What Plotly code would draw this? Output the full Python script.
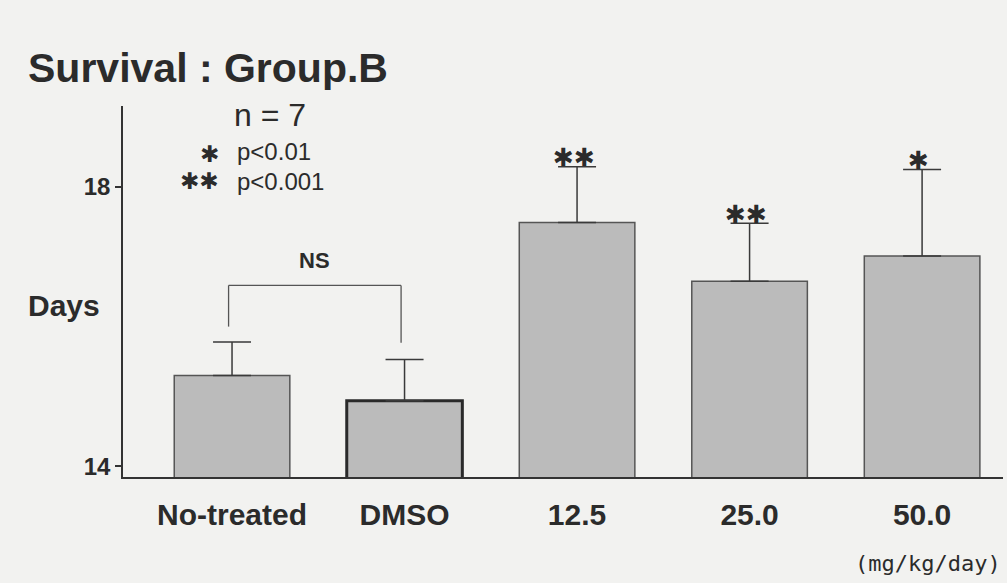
import plotly.graph_objects as go

# ---- data ----
categories = ["No-treated", "DMSO", "12.5", "25.0", "50.0"]
mean_days = [15.30, 14.94, 17.49, 16.65, 17.01]
sd_days = [0.48, 0.59, 0.80, 0.83, 1.24]
significance = ["", "", "✱✱", "✱✱", "✱"]
y_ticks = [14, 18]

# ---- geometry helpers (pixel -> paper) ----
W, H = 1007, 583
L, R, T, B = 123, 4, 106, 106
PW, PH = W - L - R, H - T - B


def px(x):
    return (x - L) / PW


def py(y):
    return (H - B - y) / PH


ink = "#2b2b2b"
bold = "Liberation Sans"
bar_star_font = dict(family="DejaVu Sans", size=25, color=ink)
key_star_font = dict(family="DejaVu Sans", size=23, color=ink)

fig = go.Figure()
fig.add_trace(go.Bar(
    x=list(range(len(categories))),
    y=mean_days,
    width=0.67,
    marker=dict(color="#bbbbbb",
                line=dict(color=["#555", "#2a2a2a", "#555", "#555", "#555"],
                          width=[1.5, 3, 1.5, 1.5, 1.5])),
    error_y=dict(type="data", array=sd_days, arrayminus=[0] * len(sd_days),
                 symmetric=False, color="#3a3a3a", thickness=1.5, width=19),
    showlegend=False,
))

annotations = []
# significance stars above error bars
for i, (m, s, sig) in enumerate(zip(mean_days, sd_days, significance)):
    if sig:
        annotations.append(dict(x=i - 0.02, y=m + s, xref="x", yref="y", text=sig,
                                showarrow=False, yanchor="middle", yshift=9, font=bar_star_font))

# NS bracket
y_top = 16.59
shapes = [
    dict(type="line", xref="x", yref="y", x0=-0.02, x1=-0.02, y0=16.0, y1=y_top,
         line=dict(color="#555", width=1.3)),
    dict(type="line", xref="x", yref="y", x0=-0.02, x1=0.98, y0=y_top, y1=y_top,
         line=dict(color="#555", width=1.3)),
    dict(type="line", xref="x", yref="y", x0=0.98, x1=0.98, y0=15.77, y1=y_top,
         line=dict(color="#555", width=1.3)),
]
annotations.append(dict(x=0.48, y=16.94, xref="x", yref="y", text="<b>NS</b>", showarrow=False,
                        font=dict(family=bold, size=22, color=ink)))

# title and legend texts
annotations += [
    dict(x=px(26), y=py(68), xref="paper", yref="paper", xanchor="left", yanchor="middle",
         text="<b>Survival : Group.B</b>", showarrow=False,
         font=dict(family=bold, size=41, color=ink)),
    dict(x=px(270), y=py(115), xref="paper", yref="paper", xanchor="center", yanchor="middle",
         text="n = 7", showarrow=False, font=dict(family=bold, size=32, color=ink)),
    dict(x=px(235), y=py(151), xref="paper", yref="paper", xanchor="left", yanchor="middle",
         text="p<0.01", showarrow=False, font=dict(family=bold, size=24, color=ink)),
    dict(x=px(235), y=py(181), xref="paper", yref="paper", xanchor="left", yanchor="middle",
         text="p<0.001", showarrow=False, font=dict(family=bold, size=24, color=ink)),
    dict(x=px(221), y=py(154), xref="paper", yref="paper", xanchor="right", yanchor="middle",
         text="✱", showarrow=False, font=key_star_font),
    dict(x=px(221), y=py(181), xref="paper", yref="paper", xanchor="right", yanchor="middle",
         text="✱✱", showarrow=False, font=key_star_font),
    dict(x=px(64), y=py(305), xref="paper", yref="paper", xanchor="center", yanchor="middle",
         text="<b>Days</b>", showarrow=False, font=dict(family=bold, size=30, color=ink)),
    dict(x=px(928), y=py(563), xref="paper", yref="paper", xanchor="center", yanchor="middle",
         text="(mg/kg/day)", showarrow=False, font=dict(family="DejaVu Sans Mono", size=22, color=ink)),
]

fig.update_layout(
    width=W, height=H,
    margin=dict(l=L, r=R, t=T, b=B, pad=0),
    paper_bgcolor="#f2f2f0", plot_bgcolor="#f2f2f0",
    annotations=annotations, shapes=shapes,
)
fig.update_xaxes(
    range=[-0.632, 4.469], tickmode="array", tickvals=list(range(len(categories))),
    ticktext=["<b>" + c + "</b>" for c in categories],
    tickfont=dict(family=bold, size=30, color=ink),
    showline=True, linecolor="#333", linewidth=1.6, showgrid=False, zeroline=False,
    ticks="", ticklabelstandoff=10,
)
fig.update_yaxes(
    range=[13.847, 19.158], tickmode="array", tickvals=y_ticks,
    ticktext=["<b>%d</b>" % v for v in y_ticks],
    tickfont=dict(family=bold, size=24, color=ink),
    showline=True, linecolor="#333", linewidth=1.6, showgrid=False, zeroline=False,
    ticks="outside", ticklen=6, tickwidth=1.5, tickcolor="#333",
)

fig.write_html("out.html", config={"displayModeBar": False},
               post_script="document.body.style.margin='0px';document.body.style.background='#f2f2f0';")
